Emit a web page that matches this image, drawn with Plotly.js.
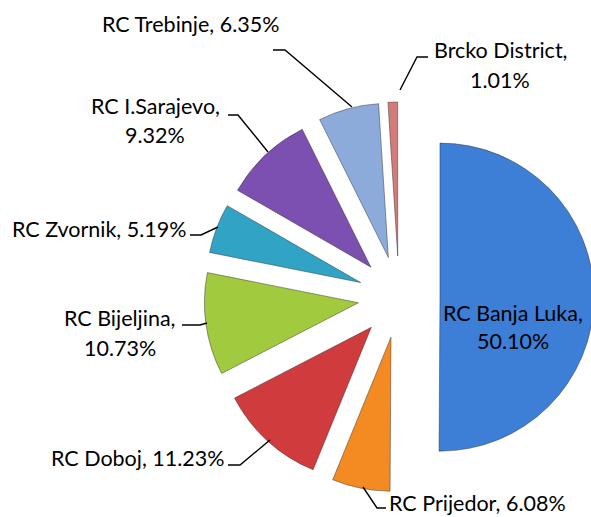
<!DOCTYPE html>
<html><head><meta charset="utf-8">
<script src="https://cdn.plot.ly/plotly-3.0.1.min.js"></script>
<style>html,body{margin:0;padding:0;overflow:hidden;background:#fff}#chart{width:600px;height:517px}</style>
</head><body><div id="chart"></div><script>
// ---- data ----
const regions = ["RC Banja Luka","RC Prijedor","RC Doboj","RC Bijeljina","RC Zvornik","RC I.Sarajevo","RC Trebinje","Brcko District"];
const shares = [50.10, 6.08, 11.23, 10.73, 5.19, 9.32, 6.35, 1.01];
const sliceColors = ["#3D7ED6","#F38A22","#D03B3D","#A2CA3E","#31A3C5","#7B50B0","#8CABDA","#D27C7A"];

// ---- layout helpers (pixels -> paper) ----
const W = 600, H = 517;
const px = x => x / W, py = y => 1 - y / H;
const FONT = {family: "Lato, 'Open Sans', sans-serif", size: 21.5, color: "#000"};

// label placement: split = two-line label
const labelPlace = [
  {i:0, split:true,  x:513, y:[313,341], a:"center"},
  {i:1, split:false, x:388, y:[503],     a:"left"},
  {i:2, split:false, x:226, y:[458],     a:"right"},
  {i:3, split:true,  x:120, y:[318,348], a:"center"},
  {i:4, split:false, x:187, y:[229],     a:"right"},
  {i:5, split:true,  x:155, y:[106,135], a:"center"},
  {i:6, split:false, x:190, y:[24],      a:"center"},
  {i:7, split:true,  x:500, y:[50,80],   a:"center"}
];
const leaders = [
  [[363,487],[377,508],[386,508]],
  [[228,465],[240,465],[270,440]],
  [[182,325],[200,325],[207,323]],
  [[190,235],[201,235],[218,227]],
  [[228,115],[238,115],[268,152]],
  [[273,50],[285,50],[352,107]],
  [[428,57],[417,57],[400,90]]
];

const annotations = [];
labelPlace.forEach(p => {
  const pct = shares[p.i].toFixed(2) + "%";
  const lines = p.split ? [regions[p.i] + ",", pct] : [regions[p.i] + ", " + pct];
  lines.forEach((t, k) => annotations.push({
    text: t, xref: "paper", yref: "paper", x: px(p.x), y: py(p.y[k]),
    xanchor: p.a, yanchor: "middle", showarrow: false, font: FONT,
    borderpad: 0
  }));
});
const shapes = leaders.map(pts => ({
  type: "path", xref: "paper", yref: "paper",
  path: pts.map((q, k) => (k ? "L" : "M") + px(q[0]) + "," + py(q[1])).join(" "),
  line: {color: "#000", width: 1.4}
}));

const trace = {
  type: "pie", labels: regions, values: shares, sort: false,
  direction: "clockwise", rotation: 0,
  pull: shares.map(() => 0.266),
  marker: {colors: sliceColors, line: {color: "rgba(40,40,40,0.45)", width: 1}},
  textinfo: "none", hoverinfo: "label+percent",
  domain: {x: [px(204), px(594)], y: [py(492), py(102)]}
};

Plotly.newPlot("chart", [trace], {
  width: W, height: H, margin: {l:0, r:0, t:0, b:0},
  showlegend: false, paper_bgcolor: "#fff",
  annotations: annotations, shapes: shapes
}, {displayModeBar: false, staticPlot: true});
</script></body></html>
